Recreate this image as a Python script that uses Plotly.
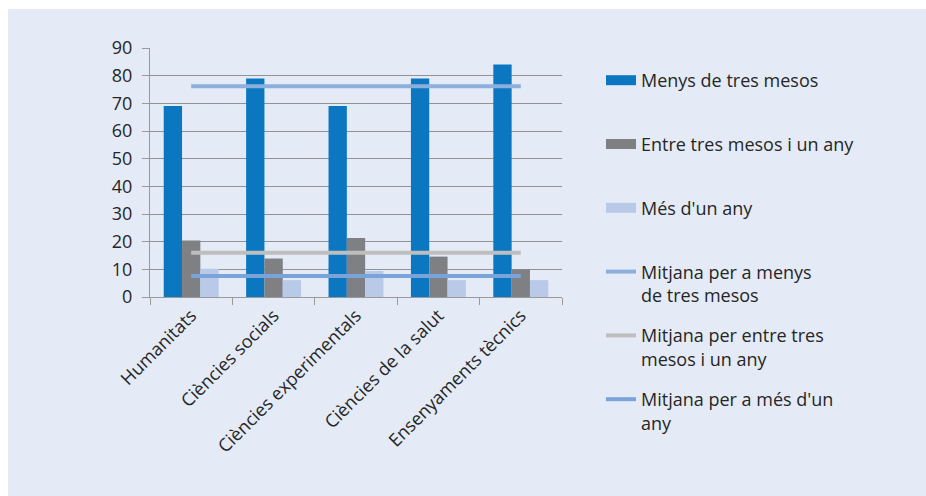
import plotly.graph_objects as go

categories = ["Humanitats", "Ciències socials", "Ciències experimentals",
              "Ciències de la salut", "Ensenyaments tècnics"]
menys_tres_mesos = [69, 79, 69, 79, 84]
entre_tres_mesos_any = [20.4, 13.9, 21.3, 14.6, 10.0]
mes_un_any = [10.2, 6.1, 9.4, 6.1, 6.1]
mitjana_menys = [76.2, 76.2, 76.2, 76.2, 76.2]
mitjana_entre = [16.0, 16.0, 16.0, 16.0, 16.0]
mitjana_mes = [7.6, 7.6, 7.6, 7.6, 7.6]

bar_names = ["Menys de tres mesos", "Entre tres mesos i un any", "Més d'un any"]
line_names = ["Mitjana per a menys<br>de tres mesos",
              "Mitjana per entre tres<br>mesos i un any",
              "Mitjana per a més d'un<br>any"]

BLUE = "#0b77c1"
GRAY = "#7f8083"
LIGHT = "#b8cae8"
MEAN_BLUE = "#8dafdc"
MEAN_GRAY = "#bebebe"
MEAN_LIGHT = "#7aa3d9"
PANEL = "#e4ebf6"
TEXT = "#262626"
FONT = "Open Sans"
FS = 18

fig = go.Figure()
bar_series = [menys_tres_mesos, entre_tres_mesos_any, mes_un_any]
bar_colors = [BLUE, GRAY, LIGHT]
for i, (vals, col) in enumerate(zip(bar_series, bar_colors)):
    fig.add_trace(go.Bar(x=categories, y=vals, marker=dict(color=col, line=dict(width=0)),
                         showlegend=False, name=bar_names[i]))
# legend proxies for bars (wide rectangles)
for i, col in enumerate(bar_colors):
    fig.add_trace(go.Scatter(x=[None], y=[None], mode="lines",
                             line=dict(color=col, width=12),
                             name=bar_names[i] + "<br>\u00a0",
                             legendgroup="g%d" % i, showlegend=True))

mean_series = [mitjana_menys, mitjana_entre, mitjana_mes]
mean_colors = [MEAN_BLUE, MEAN_GRAY, MEAN_LIGHT]
for i, (vals, col) in enumerate(zip(mean_series, mean_colors)):
    fig.add_trace(go.Scatter(x=categories, y=vals, mode="lines",
                             line=dict(color=col, width=4),
                             name=line_names[i], legendgroup="m%d" % i))

W, H = 926, 496
L, R, T, B = 150, 364, 48, 199
pw, ph = W - L - R, H - T - B

def px_x(px):
    return (px - L) / pw

def px_y(py):
    return (H - B - py) / ph

fig.update_layout(
    width=W, height=H,
    margin=dict(l=L, r=R, t=T, b=B, pad=0),
    paper_bgcolor=PANEL, plot_bgcolor=PANEL,
    font=dict(family=FONT, size=FS, color=TEXT),
    barmode="group", bargap=0.333, bargroupgap=0,
    showlegend=True,
    legend=dict(x=px_x(601), y=px_y(62), xanchor="left", yanchor="top",
                bgcolor="rgba(0,0,0,0)", tracegroupgap=14, valign="top",
                maxheight=430,
                font=dict(family=FONT, size=FS, color=TEXT), traceorder="grouped"),
    xaxis=dict(type="category", tickson="boundaries", ticks="outside", ticklen=7,
               tickcolor="#9a9a9a", showline=True, linecolor="#9a9a9a", linewidth=1,
               showgrid=False, tickangle=-45, tickfont=dict(size=FS, color=TEXT)),
    yaxis=dict(range=[0, 90], dtick=10, ticks="outside", ticklen=7, tickcolor="#9a9a9a",
               showline=True, linecolor="#9a9a9a", linewidth=1, gridcolor="#8f9297",
               gridwidth=1, zeroline=False, tickfont=dict(size=FS, color=TEXT),
               ticklabelstandoff=6),
    shapes=[
        dict(type="rect", xref="paper", yref="paper", x0=px_x(-2), x1=px_x(8),
             y0=px_y(H + 2), y1=px_y(-2), fillcolor="white", line=dict(width=0)),
        dict(type="rect", xref="paper", yref="paper", x0=px_x(-2), x1=px_x(W + 2),
             y0=px_y(9), y1=px_y(-2), fillcolor="white", line=dict(width=0)),
    ],
)

fig.write_html("out.html",
               config={"displayModeBar": False},
               post_script="document.body.style.margin='0';"
                           "document.documentElement.style.overflow='hidden';"
                           "document.body.style.overflow='hidden';")
